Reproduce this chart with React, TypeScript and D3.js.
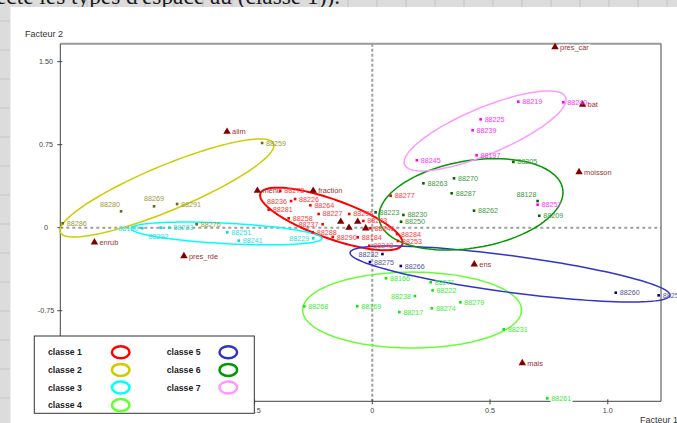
import React, { useEffect } from "react";
import * as d3 from "d3";

// ---------- data (factor coordinates) ----------
const classNames = ["classe 1", "classe 2", "classe 3", "classe 4", "classe 5", "classe 6", "classe 7"];

const classe1 = [
  { id: "88273", x: -0.391, y: 0.332 },
  { id: "88236", x: -0.345, y: 0.241 },
  { id: "88226", x: -0.328, y: 0.259 },
  { id: "88281", x: -0.44, y: 0.163 },
  { id: "88264", x: -0.263, y: 0.202 },
  { id: "88227", x: -0.228, y: 0.124 },
  { id: "88258", x: -0.355, y: 0.085 },
  { id: "88237", x: -0.211, y: 0.031 },
  { id: "88288", x: -0.253, y: -0.042 },
  { id: "88290", x: -0.168, y: -0.084 },
  { id: "88296", x: -0.098, y: 0.124 },
  { id: "88283", x: -0.038, y: 0.061 },
  { id: "88246", x: -0.008, y: -0.005 },
  { id: "88184", x: -0.062, y: -0.087 },
  { id: "88284", x: 0.105, y: -0.057 },
  { id: "88248", x: -0.013, y: -0.163 },
  { id: "88253", x: 0.109, y: -0.12 },
  { id: "88277", x: 0.078, y: 0.289 },
];
const classe2 = [
  { id: "88286", x: -1.315, y: 0.04 },
  { id: "88280", x: -1.067, y: 0.148 },
  { id: "88269", x: -0.927, y: 0.193 },
  { id: "88291", x: -0.829, y: 0.214 },
  { id: "88259", x: -0.468, y: 0.765 },
  { id: "88276", x: -0.746, y: 0.031 },
];
const classe3 = [
  { id: "88130", x: -0.977, y: -0.005 },
  { id: "88292", x: -0.899, y: 0.0 },
  { id: "88233", x: -0.862, y: 0.0 },
  { id: "88251", x: -0.616, y: -0.042 },
  { id: "88241", x: -0.567, y: -0.117 },
  { id: "88229", x: -0.251, y: -0.096 },
];
const classe4 = [
  { id: "88166", x: 0.058, y: -0.457 },
  { id: "88271", x: 0.248, y: -0.493 },
  { id: "88222", x: 0.256, y: -0.566 },
  { id: "88238", x: 0.181, y: -0.617 },
  { id: "88279", x: 0.374, y: -0.674 },
  { id: "88268", x: -0.289, y: -0.71 },
  { id: "88169", x: -0.064, y: -0.71 },
  { id: "88217", x: 0.115, y: -0.762 },
  { id: "88274", x: 0.253, y: -0.728 },
  { id: "88231", x: 0.558, y: -0.918 },
  { id: "88261", x: 0.743, y: -1.541 },
];
const classe5 = [
  { id: "88232", x: 0.043, y: -0.238 },
  { id: "88275", x: -0.01, y: -0.31 },
  { id: "88266", x: 0.121, y: -0.346 },
  { id: "88260", x: 1.034, y: -0.587 },
  { id: "88255", x: 1.216, y: -0.611 },
];
const classe6 = [
  { id: "88223", x: 0.014, y: 0.139 },
  { id: "88230", x: 0.132, y: 0.115 },
  { id: "88250", x: 0.122, y: 0.054 },
  { id: "88263", x: 0.217, y: 0.401 },
  { id: "88270", x: 0.347, y: 0.446 },
  { id: "88287", x: 0.337, y: 0.311 },
  { id: "88262", x: 0.432, y: 0.154 },
  { id: "88128", x: 0.702, y: 0.241 },
  { id: "88209", x: 0.709, y: 0.108 },
  { id: "88205", x: 0.599, y: 0.594 },
];
const classe7 = [
  { id: "88219", x: 0.62, y: 1.138 },
  { id: "88240", x: 0.811, y: 1.133 },
  { id: "88225", x: 0.46, y: 0.979 },
  { id: "88239", x: 0.426, y: 0.88 },
  { id: "88245", x: 0.189, y: 0.609 },
  { id: "88197", x: 0.443, y: 0.654 },
  { id: "88257", x: 0.702, y: 0.208 },
];

// illustrative modalities (triangles)
const modalites = [
  { id: "pres_car", x: 0.776, y: 1.632 },
  { id: "bat", x: 0.893, y: 1.112 },
  { id: "moisson", x: 0.878, y: 0.503 },
  { id: "alim", x: -0.617, y: 0.867 },
  { id: "enrub", x: -1.18, y: -0.132 },
  { id: "pres_rde", x: -0.8, y: -0.256 },
  { id: "menu", x: -0.488, y: 0.334 },
  { id: "fraction", x: -0.251, y: 0.334 },
  { id: "ens", x: 0.433, y: -0.331 },
  { id: "mais", x: 0.637, y: -1.222 },
  { id: "", x: -0.134, y: 0.054 },
  { id: "", x: -0.099, y: 0.0 },
  { id: "", x: -0.062, y: 0.054 },
  { id: "", x: -0.028, y: -0.005 },
];

// class ellipses: centre and two conjugate semi-diameters, in factor units
const ellipses = [
  { cx: -0.174, cy: 0.079, ux: 0.3014, uy: -0.2296, vx: -0.0278, vy: -0.165 },
  { cx: -0.872, cy: 0.359, ux: 0.4529, uy: 0.401, vx: 0.0367, vy: -0.1877 },
  { cx: -0.619, cy: -0.052, ux: 0.4055, uy: -0.0452, vx: -0.0023, vy: -0.0925 },
  { cx: 0.169, cy: -0.744, ux: 0.465, uy: 0.0, vx: 0.0, vy: -0.343 },
  { cx: 0.585, cy: -0.418, ux: 0.6794, uy: -0.1929, vx: -0.0103, vy: -0.1639 },
  { cx: 0.419, cy: 0.211, ux: 0.3895, uy: 0.139, vx: 0.0307, vy: -0.3884 },
  { cx: 0.479, cy: 0.874, ux: 0.3418, uy: 0.3051, vx: 0.0381, vy: -0.1932 },
];

const xTicks = [-1.0, -0.5, 0, 0.5, 1.0];
const xTickLabels = ["-1.0", "-0.5", "0", "0.5", "1.0"];
const yTicks = [-1.5, -0.75, 0, 0.75, 1.5];
const yTickLabels = ["-1.50", "-0.75", "0", "0.75", "1.50"];

// ---------- styles ----------
const classes = [classe1, classe2, classe3, classe4, classe5, classe6, classe7];
const ellipseColors = ["#ff0000", "#cccc00", "#00ffff", "#66ff33", "#3333cc", "#009900", "#ff99ff"];
const dotColors = ["#ff0000", "#6b6b00", "#00dddd", "#00ee00", "#000080", "#006600", "#ff00ff"];
const labelColors = ["#ff3b3b", "#9a9a3a", "#2ce0e0", "#3aee3a", "#55559a", "#3f993f", "#ff33ff"];
const labelSide: Record<string, string> = {
  "88236": "l", "88237": "l", "88280": "al", "88269": "a", "88130": "l", "88292": "b",
  "88229": "l", "88238": "l", "88232": "l", "88128": "al",
};

const W = 677;
const H = 423;
const FONT = "'Liberation Sans', Arial, sans-serif";

export default function App() {
  useEffect(() => {
    document.body.style.margin = "0";
  }, []);

  const sx = d3.scaleLinear().domain([-1.325, 1.226]).range([60.3, 661]);
  const sy = d3.scaleLinear().domain([-1.568, 1.662]).range([401.3, 43.7]);

  const ellipsePath = (e: typeof ellipses[number]) => {
    const ts = d3.range(0, 121).map((i) => (i / 120) * Math.PI * 2);
    const line = d3
      .line<number>()
      .x((t) => sx(e.cx + e.ux * Math.cos(t) + e.vx * Math.sin(t)))
      .y((t) => sy(e.cy + e.uy * Math.cos(t) + e.vy * Math.sin(t)))
      .curve(d3.curveLinearClosed);
    return line(ts) || "";
  };

  const tri = d3.symbol().type(d3.symbolTriangle).size(24)() || "";

  const labelPos = (id: string, px: number, py: number) => {
    const s = labelSide[id] || "r";
    if (s === "l") return { x: px - 4, y: py, anchor: "end" };
    if (s === "a") return { x: px, y: py - 8, anchor: "middle" };
    if (s === "al") return { x: px - 1, y: py - 7, anchor: "end" };
    if (s === "b") return { x: px - 2, y: py + 9, anchor: "middle" };
    return { x: px + 4, y: py, anchor: "start" };
  };

  const x0 = sx(0);
  const y0 = sy(0);
  const [xl, xr] = sx.range();
  const [yb, yt] = sy.range();
  // labels sitting on the frame get a white backing (as in the reference)
  const onFrame = (py: number) => Math.abs(py - yt) < 5 || Math.abs(py - yb) < 5;

  const bandLines = d3.range(0, 24).map((i) => 377 - 29 * 12 + 29 * i);
  const stripLines = d3.range(0, 15).map((i) => 137 - 29 * 4 + 29 * i);

  return (
    <svg
      width={W}
      height={H}
      style={{ position: "absolute", left: 0, top: 0, display: "block" }}
      fontFamily={FONT}
    >
      {/* screenshot surroundings */}
      <rect x={0} y={0} width={W} height={H} fill="#dcdcdc" />
      {bandLines.map((x, i) => (
        <line key={"bl" + i} x1={x} x2={x} y1={0} y2={7} stroke="#c2c2c2" />
      ))}
      {stripLines.map((y, i) => (
        <line key={"sl" + i} x1={0} x2={10} y1={y} y2={y} stroke="#c6c6c6" />
      ))}
      <text
        x={-4}
        y={4}
        fontFamily="'Liberation Serif', 'Times New Roman', serif"
        fontSize={23}
        fill="#1a1a1a"
        textLength={344}
        lengthAdjust="spacingAndGlyphs"
      >
        ecte les types d'espace au (classe 1)).
      </text>
      <rect x={10.5} y={7} width={W - 10.5} height={H - 7} fill="#ffffff" />

      {/* reference lines */}
      <line x1={xl} x2={xr} y1={y0} y2={y0} stroke="#a0a0a0" strokeWidth={2} strokeDasharray="3,3" />
      <line x1={x0} x2={x0} y1={yt} y2={yb} stroke="#a0a0a0" strokeWidth={2} strokeDasharray="3,2" />

      {/* frame */}
      <line x1={xl} x2={xr} y1={yt} y2={yt} stroke="#9a9a9a" strokeWidth={2} />
      <line x1={xl} x2={xl} y1={yt} y2={yb} stroke="#444" strokeWidth={1} />
      <line x1={xr} x2={xr} y1={yt} y2={yb} stroke="#444" strokeWidth={1} />
      <line x1={xl} x2={xr} y1={yb} y2={yb} stroke="#444" strokeWidth={1} />

      {/* ticks */}
      {yTicks.map((v, i) => (
        <g key={"yt" + i}>
          <line x1={xl - 3} x2={xl + 2} y1={sy(v)} y2={sy(v)} stroke="#444" />
          <text x={46} y={sy(v)} dy="0.35em" fontSize={7.2} fill="#444" textAnchor="middle">
            {yTickLabels[i]}
          </text>
        </g>
      ))}
      {xTicks.map((v, i) => (
        <g key={"xt" + i}>
          <line x1={sx(v)} x2={sx(v)} y1={yb - 2} y2={yb + 3} stroke="#444" />
          <text x={sx(v)} y={yb + 9} dy="0.35em" fontSize={7.2} fill="#444" textAnchor="middle">
            {xTickLabels[i]}
          </text>
        </g>
      ))}
      <text x={25} y={37} fontSize={9} fill="#333">Facteur 2</text>
      <text x={640} y={423} fontSize={9} fill="#333">Facteur 1</text>

      {/* ellipses */}
      {ellipses.map((e, i) => (
        <path
          key={"el" + i}
          d={ellipsePath(e)}
          fill="none"
          stroke={ellipseColors[i]}
          strokeWidth={i === 0 ? 2 : 1.5}
        />
      ))}

      {/* illustrative modalities */}
      {modalites.map((m, i) => {
        const px = sx(m.x);
        const py = sy(m.y);
        return (
          <g key={"m" + i}>
            <path d={tri} transform={`translate(${px},${py})`} fill="#800000" />
            {m.id && (
              <text
                x={px + 5}
                y={py}
                dy="0.35em"
                fontSize={7.4}
                fill="#993333"
                stroke={onFrame(py) ? "#ffffff" : "none"}
                strokeWidth={3}
                style={{ paintOrder: "stroke" }}
              >
                {m.id}
              </text>
            )}
          </g>
        );
      })}

      {/* individuals */}
      {classes.map((pts, ci) => (
        <g key={"c" + ci}>
          {pts.map((p) => {
            const px = sx(p.x);
            const py = sy(p.y);
            const lp = labelPos(p.id, px, py);
            return (
              <g key={p.id}>
                <rect x={px - 1.3} y={py - 1.3} width={2.6} height={2.6} fill={dotColors[ci]} />
                <text
                  x={lp.x}
                  y={lp.y}
                  dy="0.35em"
                  fontSize={7.2}
                  fill={labelColors[ci]}
                  textAnchor={lp.anchor}
                  stroke={onFrame(py) ? "#ffffff" : "none"}
                  strokeWidth={3}
                  style={{ paintOrder: "stroke" }}
                >
                  {p.id}
                </text>
              </g>
            );
          })}
        </g>
      ))}

      {/* legend */}
      <g>
        <rect x={34.3} y={336} width={220} height={77.3} fill="#ffffff" stroke="#333" strokeWidth={1} />
        {classNames.map((name, i) => {
          const col = i < 4 ? 0 : 1;
          const row = i < 4 ? i : i - 4;
          const ty = 352.3 + row * 17.6;
          const tx = col === 0 ? 48 : 166.7;
          const ex = col === 0 ? 120.7 : 228.3;
          return (
            <g key={"lg" + i}>
              <text x={tx} y={ty} dy="0.35em" fontSize={8.7} fontWeight="bold" fill="#222">
                {name}
              </text>
              <ellipse cx={ex} cy={ty} rx={8.8} ry={6} fill="none" stroke={ellipseColors[i]} strokeWidth={2.5} />
            </g>
          );
        })}
      </g>
    </svg>
  );
}
